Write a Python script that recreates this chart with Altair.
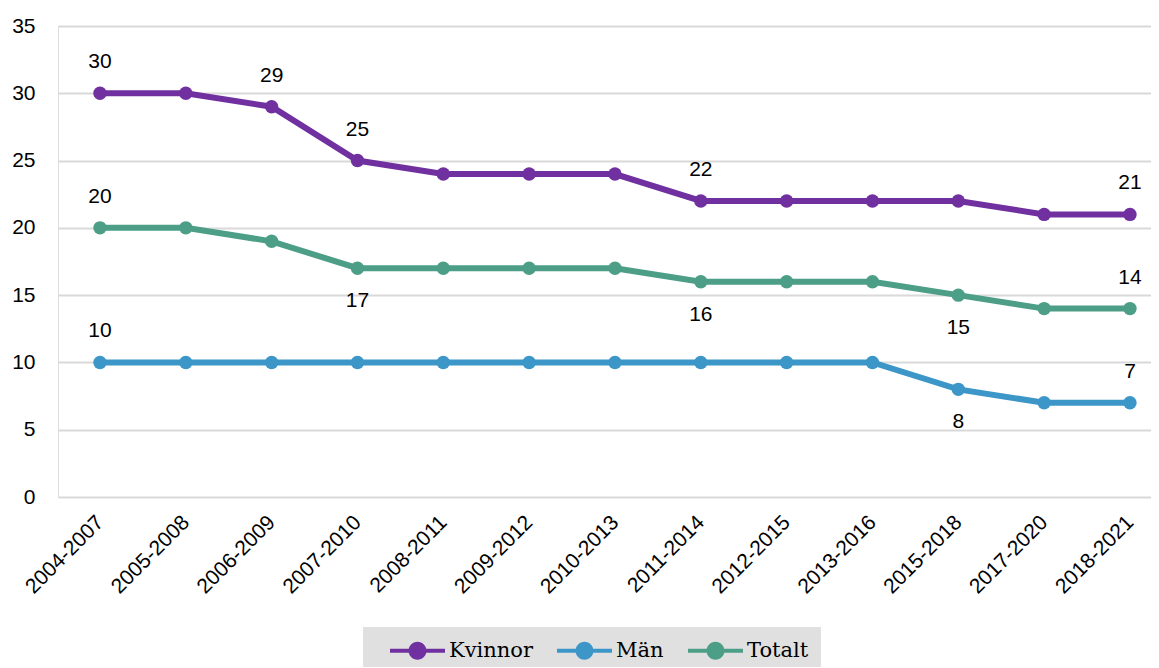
import altair as alt
import pandas as pd

periods = ["2004-2007", "2005-2008", "2006-2009", "2007-2010", "2008-2011", "2009-2012",
           "2010-2013", "2011-2014", "2012-2015", "2013-2016", "2015-2018", "2017-2020", "2018-2021"]
series = ["Kvinnor", "Män", "Totalt"]
kvinnor = [30, 30, 29, 25, 24, 24, 24, 22, 22, 22, 22, 21, 21]
man = [10, 10, 10, 10, 10, 10, 10, 10, 10, 10, 8, 7, 7]
totalt = [20, 20, 19, 17, 17, 17, 17, 16, 16, 16, 15, 14, 14]
colors = ["#7030A0", "#3C96C8", "#4C9E86"]

# which points get a label, and where (above / below)
labels_above = {"Kvinnor": ["2004-2007", "2006-2009", "2007-2010", "2011-2014", "2018-2021"],
                "Män": ["2004-2007", "2018-2021"],
                "Totalt": ["2004-2007", "2018-2021"]}
labels_below = {"Kvinnor": [],
                "Män": ["2015-2018"],
                "Totalt": ["2007-2010", "2011-2014", "2015-2018"]}

rows = []
for name, vals in zip(series, [kvinnor, man, totalt]):
    for i, (p, v) in enumerate(zip(periods, vals)):
        pos = "above" if p in labels_above[name] else ("below" if p in labels_below[name] else "none")
        rows.append({"idx": i, "period": p, "serie": name, "value": v, "pos": pos})
df = pd.DataFrame(rows)

FONT = "Liberation Sans"
label_expr = "[" + ",".join("'%s'" % p for p in periods) + "][datum.value]"

x = alt.X("idx:Q", title=None,
          scale=alt.Scale(domain=[-0.489, 12.245], nice=False, zero=False),
          axis=alt.Axis(values=list(range(len(periods))), labelExpr=label_expr,
                        labelAngle=-45, labelFontSize=21, labelFont=FONT, labelColor="#000000",
                        ticks=False, domain=False, grid=False, labelPadding=22,
                        labelAlign="right", labelBaseline="middle", labelOverlap=False,
                        labelFlush=False, labelBound=False))
y = alt.Y("value:Q", title=None,
          scale=alt.Scale(domain=[0, 35], nice=False),
          axis=alt.Axis(values=[0, 5, 10, 15, 20, 25, 30, 35], labelFontSize=21, labelFont=FONT,
                        labelColor="#000000", ticks=False, domain=False, gridColor="#D9D9D9",
                        gridWidth=2, labelPadding=23))

# symbol: thick line with a dot in the middle (path scaled by sqrt(size)/2 = 11.5px)
sym = ("M-2.39,-0.17 L2.39,-0.17 L2.39,0.17 L-2.39,0.17 Z "
       "M0.78,0 A0.78,0.78 0 1,1 -0.78,0 A0.78,0.78 0 1,1 0.78,0 Z")

color = alt.Color("serie:N", sort=series, scale=alt.Scale(domain=series, range=colors),
                  legend=alt.Legend(title=None, orient="none", legendX=305, legendY=601,
                                    direction="horizontal", symbolType=sym, symbolSize=529,
                                    symbolStrokeWidth=0, symbolOffset=31,
                                    labelFont="DejaVu Serif", labelFontSize=21,
                                    labelColor="#000000", labelOffset=20, columnPadding=9,
                                    fillColor="#E0E0E0", padding=12,
                                    symbolOpacity=1))

base = alt.Chart(df)
lines = base.mark_line(strokeWidth=6).encode(x=x, y=y, color=color)
points = base.mark_point(filled=True, size=180, opacity=1).encode(x=x, y=y, color=color)
txt_above = base.transform_filter(alt.datum.pos == "above").mark_text(
    dy=-31, fontSize=21, font=FONT, color="#000000", baseline="middle").encode(
    x=x, y=y, text="value:Q")
txt_below = base.transform_filter(alt.datum.pos == "below").mark_text(
    dy=33, fontSize=21, font=FONT, color="#000000", baseline="middle").encode(
    x=x, y=y, text="value:Q")

chart = alt.layer(lines, points, txt_above, txt_below).properties(
    width=1093, height=471,
    autosize=alt.AutoSizeParams(type="none"),
    padding={"left": 50, "top": 18, "right": 0, "bottom": 170},
).configure_view(stroke="transparent").configure(background="#FFFFFF")

chart.save("out.html", embed_options={"renderer": "svg", "actions": False})
